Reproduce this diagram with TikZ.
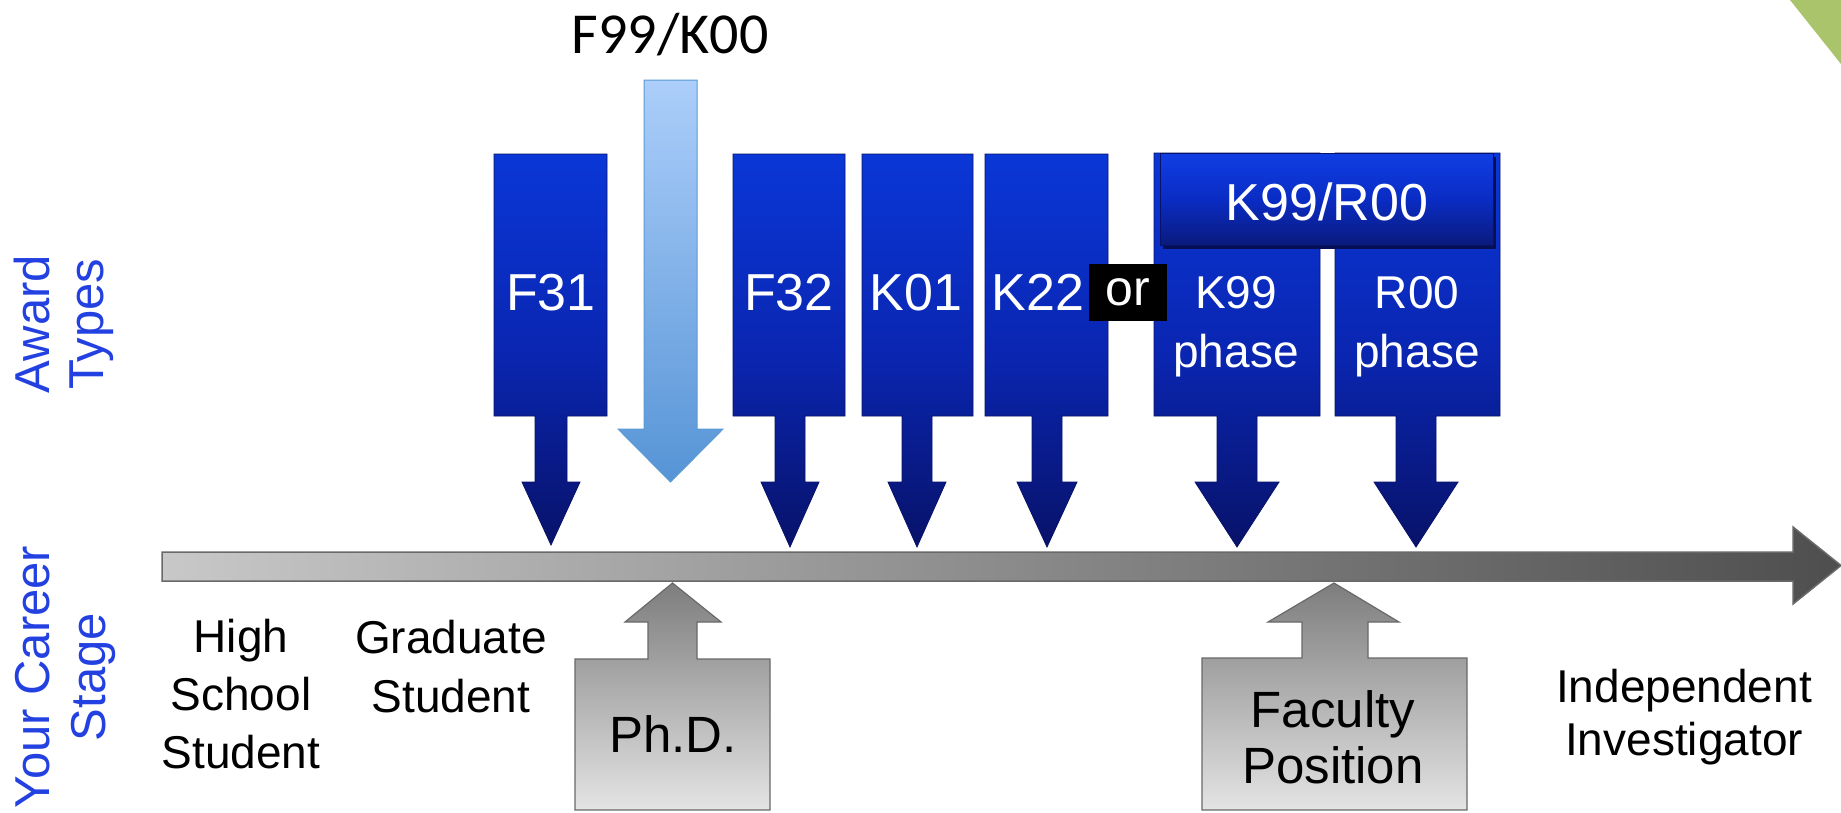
\documentclass[tikz,border=0pt]{standalone}
\usepackage{fontspec}
\setmainfont{Liberation Sans}
\newfontfamily\calibfont{Carlito}
\definecolor{bluetop}{RGB}{10,55,215}
\definecolor{bluemid}{RGB}{10,38,178}
\definecolor{bluebot}{RGB}{8,18,105}
\definecolor{hdtop}{RGB}{16,62,228}
\definecolor{hdmid}{RGB}{10,44,196}
\definecolor{hdbot}{RGB}{10,26,125}
\definecolor{lbtop}{RGB}{172,206,250}
\definecolor{lbbot}{RGB}{86,148,214}
\definecolor{lbedge}{RGB}{91,155,213}
\definecolor{labelblue}{RGB}{35,65,225}
\definecolor{greentri}{RGB}{170,196,108}
\definecolor{barl}{RGB}{200,200,200}
\definecolor{barr}{RGB}{78,78,78}
\definecolor{baredge}{RGB}{105,105,105}
\definecolor{grtop}{RGB}{125,125,125}
\definecolor{grbot}{RGB}{228,228,228}
\newcommand\myfs[1]{\fontsize{#1}{#1}\selectfont}
\newcommand\blockdown[8]{%
  \shade[bluebox] (#1,#3) -- (#2,#3) -- (#2,#4) -- (#5+#6,#4) -- (#5+#6,482)
    -- (#5+#7,482) -- (#5,#8) -- (#5-#7,482) -- (#5-#6,482) -- (#5-#6,#4)
    -- (#1,#4) -- cycle;}
\tikzset{
  bluebox/.style={top color=bluetop, bottom color=bluebot, middle color=bluemid,
    draw=bluebot, line width=0.8},
  greyshape/.style={top color=grtop, bottom color=grbot, draw=baredge, line width=1.2},
  wtext/.style={text=white, inner sep=0, anchor=base},
  btext/.style={text=black, inner sep=0, anchor=base},
  sidelabel/.style={text=labelblue, inner sep=0, anchor=base, rotate=90, font=\myfs{49}},
}
\begin{document}
\begin{tikzpicture}[x=1pt,y=-1pt]
\useasboundingbox (0,0) rectangle (1841,812);
\fill[white] (0,0) rectangle (1841,812);
% corner triangle
\fill[greentri] (1790,0) -- (1841,0) -- (1841,64) -- cycle;
% side labels
\node[sidelabel] (award) at (49,324) {Award};
\node[sidelabel] (types) at (103,324) {Types};
\node[sidelabel] (career) at (49,677) {Your Career};
\node[sidelabel] (stage) at (105,677) {Stage};
% timeline
\shade[left color=barl, right color=barr, draw=baredge, line width=1.5]
  (162,552) -- (1793,552) -- (1793,527) -- (1841,565.5) -- (1793,604)
  -- (1793,581) -- (162,581) -- cycle;
% award blocks
\blockdown{494}{607}{154}{416}{551}{16}{29}{545}
\blockdown{733}{845}{154}{416}{790}{15}{29}{547}
\blockdown{862}{973}{154}{416}{917}{15}{29}{547}
\blockdown{985}{1108}{154}{416}{1047}{15}{30}{547}
\blockdown{1154}{1320}{153}{416}{1237}{20}{42}{547}
\blockdown{1335}{1500}{153}{416}{1416}{20}{42}{547}
% K99/R00 header
\fill[bluebot!80!black] (1163,157) rectangle (1496,249);
\shade[top color=hdtop, bottom color=hdbot, middle color=hdmid, draw=bluebot, line width=0.8]
  (1160,153) rectangle (1493,245);
% F99/K00 arrow
\shade[top color=lbtop, bottom color=lbbot, draw=lbedge, line width=1]
  (644,80) -- (697,80) -- (697,429) -- (723,429) -- (670.5,482) -- (618,429)
  -- (644,429) -- cycle;
\node[btext, font=\calibfont\myfs{58}] (f99) at (670,53) {F99/K00};
% block texts
\node[wtext, font=\myfs{52}] (f31) at (551,310) {F31};
\node[wtext, font=\myfs{52}] (f32) at (789,310) {F32};
\node[wtext, font=\myfs{52}] (k01) at (916,310) {K01};
\node[wtext, font=\myfs{52}] (k22) at (1038,310) {K22};
\node[fill=black, text=white, minimum width=78, minimum height=57, inner sep=0,
  font=\myfs{50}] (or) at (1128,292) {or};
\node[wtext, font=\myfs{52}] (k99r00) at (1327,220) {K99/R00};
\node[wtext, font=\myfs{46}] (k99a) at (1236,308) {K99};
\node[wtext, font=\myfs{46}] (k99b) at (1236,367) {phase};
\node[wtext, font=\myfs{46}] (r00a) at (1417,308) {R00};
\node[wtext, font=\myfs{46}] (r00b) at (1417,367) {phase};
% career milestones
\shade[greyshape] (575,659) -- (648,659) -- (648,622) -- (625,622) -- (672.5,583)
  -- (721,622) -- (697,622) -- (697,659) -- (770,659) -- (770,810) -- (575,810) -- cycle;
\shade[greyshape] (1202,658) -- (1302,658) -- (1302,622) -- (1268,622) -- (1334,583)
  -- (1399,622) -- (1368,622) -- (1368,658) -- (1467,658) -- (1467,810) -- (1202,810) -- cycle;
\node[btext, font=\myfs{51}] (phd) at (673,752) {Ph.D.};
\node[btext, font=\myfs{51}] (fac1) at (1333,727) {Faculty};
\node[btext, font=\myfs{51}] (fac2) at (1333,783) {Position};
% stage labels
\node[btext, font=\myfs{46}] (hs1) at (241,652) {High};
\node[btext, font=\myfs{46}] (hs2) at (241,710) {School};
\node[btext, font=\myfs{46}] (hs3) at (241,768) {Student};
\node[btext, font=\myfs{46}] (gs1) at (451,653) {Graduate};
\node[btext, font=\myfs{46}] (gs2) at (451,712) {Student};
\node[btext, font=\myfs{46}] (ii1) at (1684,702) {Independent};
\node[btext, font=\myfs{46}] (ii2) at (1684,755) {Investigator};
\end{tikzpicture}
\end{document}
